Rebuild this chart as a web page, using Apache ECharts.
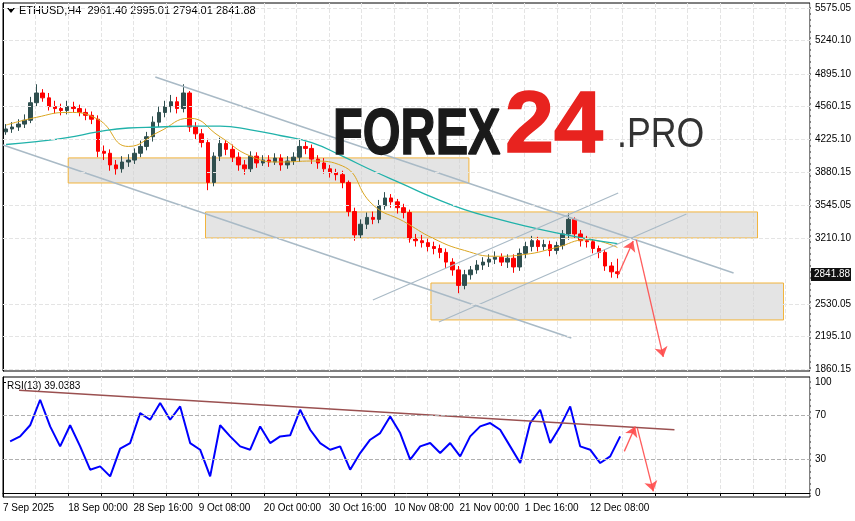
<!DOCTYPE html>
<html>
<head>
<meta charset="utf-8">
<script src="https://cdn.jsdelivr.net/npm/echarts@6/dist/echarts.min.js"></script>
<style>
  html, body { margin: 0; padding: 0; background: #fff; }
  #chart { width: 855px; height: 521px; }
</style>
</head>
<body>
<div id="chart"></div>
<script>
// daily candles (one per day, starting 7 Sep 2025)
const closes = [4330,4350,4380,4420,4600, 4700,4650,4560,4540,4520, 4560,4540,4500,4470,4430,
  4100,4080,3960,3920,3990, 4010,4080,4150,4250,4400, 4500,4560,4610,4540,4700,
  4350,4280,4190,3780,4050, 4180,4120,4040,3960,3920, 4050,3980,4010,3990,4030,
  3960,4000,4040,4150,4130, 4020,3980,3920,3880,3860, 3780,3480,3240,3350,3420,
  3400,3540,3620,3580,3520, 3470,3200,3180,3160,3120, 3100,3060,2960,2880,2720,
  2830,2880,2930,2960,2990, 3010,2960,3000,2910,3050, 3120,3180,3120,3140,3080,
  3130,3250,3400,3250,3180, 3170,3100,3060,2920,2860, 2841.88];
const highs = [4380,4400,4430,4480,4660, 4790,4740,4700,4620,4590, 4620,4610,4580,4540,4510,
  4470,4160,4120,4010,4050, 4070,4130,4210,4300,4460, 4560,4620,4680,4660,4790,
  4720,4400,4330,4230,4090, 4240,4220,4170,4090,4010, 4100,4090,4060,4060,4080,
  4070,4050,4090,4230,4200, 4170,4060,4030,3960,3920, 3900,3800,3520,3400,3470,
  3480,3600,3680,3660,3610, 3560,3500,3250,3240,3200, 3170,3140,3100,3000,2920,
  2880,2920,2980,3010,3040, 3070,3050,3040,3040,3100, 3170,3230,3220,3190,3180,
  3170,3290,3460,3420,3290, 3230,3210,3130,3090,2960, 2995.01];
const lows = [4270,4290,4310,4340,4390, 4560,4610,4520,4490,4470, 4480,4500,4460,4420,4380,
  4040,4010,3900,3860,3880, 3940,3970,4040,4110,4200, 4350,4450,4500,4490,4500,
  4300,4220,4140,3700,3740, 4000,4060,3990,3900,3860, 3880,3930,3950,3940,3960,
  3900,3920,3960,3990,4070, 3970,3920,3870,3830,3800, 3720,3430,3180,3200,3300,
  3350,3360,3500,3520,3460, 3410,3160,3120,3110,3070, 3040,3000,2900,2820,2640,
  2680,2780,2840,2880,2910, 2940,2920,2900,2850,2870, 3000,3070,3070,3080,3020,
  3040,3090,3190,3200,3120, 3110,3050,3000,2870,2800, 2794.01];
const firstOpen = 4300;

// moving averages, sampled every 5 days (hour offsets)
const maHours = [12,132,252,372,492,612,732,852,972,1092,1212,1332,1452,1572,1692,1812,1932,2052,2172,2292,2412];
const maFast = [4370,4450,4500,4430,4150,4300,4440,4250,4050,3990,4000,3950,3550,3380,3200,3080,3020,3040,3110,3190,3110];
const maSlow = [4170,4200,4240,4300,4340,4350,4360,4360,4320,4260,4190,4050,3900,3760,3620,3500,3410,3330,3260,3200,3150];

// RSI(13), sampled along the chart
const rsiStart = 28, rsiStep = 39.26;
const rsiValues = [46.5,51,61,84,60,42,61,42,21,24, 15,40,45,72,66,81,66,78,45,39,
  15,61,51,42,39,60,45,51,52,75, 57,45,39,42,21,36,48,54,69,54,
  30,42,45,36,45,33,51,60,63,57, 42,27,63,75,45,60,78,42,39,27, 33,51];

const priceTicks = [5575.05,5240.10,4895.10,4560.15,4225.10,3880.15,3545.05,3210.10,2530.05,2195.10,1860.15];
const rsiTicks = [100,70,30,0];
const dateLabels = ['7 Sep 2025','18 Sep 00:00','28 Sep 16:00','9 Oct 08:00','20 Oct 00:00',
  '30 Oct 16:00','10 Nov 08:00','21 Nov 00:00','1 Dec 16:00','12 Dec 08:00'];

// drawn objects [hour, price]
const channelUpper = [[598,4865],[2868,2848]];
const channelLower = [[0,4165],[2231,2179]];
const riseA = [[1452,2570],[2415,3671]];
const riseB = [[1711,2344],[2683,3455]];
const zones = [[256,4032,1829,3774],[795,3476,2962,3208],[1680,2745,3064,2365]];
const arrowUp = [[2415,2828],[2474,3177]];
const arrowDown = [[2486,3188],[2592,1984]];
const rsiTrend = [[63,92.5],[2636,57]];
const rsiArrowUp = [[2439,37.5],[2482,60]];
const rsiArrowDown = [[2490,58.5],[2553,1.5]];

const HOURS = 3168;
const dayCats = [];
for (let i = 0; i < HOURS / 24; i++) dayCats.push(i);
const candles = closes.map((c, i) => {
  const o = i === 0 ? firstOpen : closes[i - 1];
  return [o, c, lows[i], highs[i]];
});
const rsiData = rsiValues.map((v, i) => [rsiStart + i * rsiStep, v]);

const chart = echarts.init(document.getElementById('chart'));
const font = 'Liberation Sans';

function seg(data, color, width, xi, yi) {
  return {
    type: 'line', data, xAxisIndex: xi, yAxisIndex: yi, showSymbol: false, silent: true, z: 4,
    lineStyle: { color, width }
  };
}
function arrowSeg(data, xi, yi) {
  return {
    type: 'lines', coordinateSystem: 'cartesian2d', xAxisIndex: xi, yAxisIndex: yi, silent: true, z: 6,
    symbol: ['none', 'arrow'], symbolSize: 10,
    lineStyle: { color: '#ff4a4a', width: 1.3, opacity: 0.9 },
    data: [{ coords: data }]
  };
}

chart.setOption({
  animation: false,
  textStyle: { fontFamily: font },
  grid: [
    { left: 3, right: 45, top: 3, height: 368, show: true, borderColor: '#000', borderWidth: 1 },
    { left: 3, right: 45, top: 377, height: 120, show: true, borderColor: '#000', borderWidth: 1 }
  ],
  xAxis: [
    { type: 'category', data: dayCats, gridIndex: 0, show: false },
    { type: 'value', gridIndex: 0, min: 0, max: HOURS, interval: 128,
      axisLabel: { show: false }, axisTick: { show: false }, axisLine: { show: false },
      splitLine: { show: true, lineStyle: { color: '#e4e4e4', type: 'dashed' } } },
    { type: 'value', gridIndex: 1, min: 0, max: HOURS, interval: 128,
      axisLine: { lineStyle: { color: '#000' } },
      axisTick: { show: true, length: 3, lineStyle: { color: '#000' } },
      splitLine: { show: true, lineStyle: { color: '#e4e4e4', type: 'dashed' } },
      axisLabel: { color: '#000', fontSize: 10, align: 'left', margin: 6, showMaxLabel: false,
        formatter: v => (v % 256 === 0 && dateLabels[v / 256]) ? dateLabels[v / 256] : '' } }
  ],
  yAxis: [
    { type: 'value', gridIndex: 0, position: 'right', min: 1839.6, max: 5626, scale: true,
      axisLine: { show: true, lineStyle: { color: '#000' } },
      axisTick: { show: true, length: 3, customValues: priceTicks },
      splitLine: { show: false },
      axisLabel: { color: '#000', fontSize: 10, margin: 5, customValues: priceTicks,
        formatter: v => v.toFixed(2) } },
    { type: 'value', gridIndex: 1, position: 'right', min: -3.6, max: 104.5,
      axisLine: { show: true, lineStyle: { color: '#000' } },
      axisTick: { show: true, length: 3, customValues: rsiTicks },
      splitLine: { show: false },
      axisLabel: { color: '#000', fontSize: 10, margin: 5, customValues: rsiTicks } }
  ],
  series: [
    { type: 'line', xAxisIndex: 1, yAxisIndex: 0, data: [], silent: true,
      markLine: { silent: true, symbol: 'none', label: { show: false },
        lineStyle: { color: '#e4e4e4', type: 'dashed', width: 1 },
        data: priceTicks.map(v => ({ yAxis: v })) } },
    { type: 'candlestick', xAxisIndex: 0, yAxisIndex: 0, data: candles, barWidth: 4, z: 3,
      itemStyle: { color: '#2f4f4f', color0: '#ff0000', borderColor: '#2f4f4f', borderColor0: '#ff0000', borderWidth: 1 } },
    { type: 'line', xAxisIndex: 1, yAxisIndex: 0, smooth: true, showSymbol: false, z: 4,
      data: maHours.map((h, i) => [h, maFast[i]]), lineStyle: { color: '#daa520', width: 1 } },
    { type: 'line', xAxisIndex: 1, yAxisIndex: 0, smooth: true, showSymbol: false, z: 4,
      data: maHours.map((h, i) => [h, maSlow[i]]), lineStyle: { color: '#20b2aa', width: 1.3 } },
    seg(channelUpper, '#a9bac6', 1.5, 1, 0),
    seg(channelLower, '#a9bac6', 1.5, 1, 0),
    seg(riseA, '#a9bac6', 1.2, 1, 0),
    seg(riseB, '#a9bac6', 1.2, 1, 0),
    { type: 'line', xAxisIndex: 1, yAxisIndex: 0, data: [], silent: true,
      markArea: { silent: true,
        itemStyle: { color: 'rgba(205,205,205,0.55)', borderColor: '#f2b43c', borderWidth: 1 },
        data: zones.map(z => [{ xAxis: z[0], yAxis: z[1] }, { xAxis: z[2], yAxis: z[3] }]) } },
    arrowSeg(arrowUp, 1, 0),
    arrowSeg(arrowDown, 1, 0),
    { type: 'line', xAxisIndex: 2, yAxisIndex: 1, data: rsiData, showSymbol: false, z: 3,
      lineStyle: { color: '#0000ff', width: 2 },
      markLine: { silent: true, symbol: 'none', label: { show: false },
        lineStyle: { color: '#b0b0b0', type: 'dashed', width: 1 },
        data: [{ yAxis: 70 }, { yAxis: 30 }] } },
    seg(rsiTrend, '#9a5050', 1.5, 2, 1),
    arrowSeg(rsiArrowUp, 2, 1),
    arrowSeg(rsiArrowDown, 2, 1)
  ],
  graphic: [
    { type: 'polygon', shape: { points: [[7, 8], [15, 8], [11, 13]] }, style: { fill: '#000' } },
    { type: 'text', left: 19, top: 5, style: { text: 'ETHUSD,H4  2961.40 2995.01 2794.01 2841.88', font: '11px Liberation Sans', fill: '#000' } },
    { type: 'text', left: 7, top: 381, style: { text: 'RSI(13) 39.0383', font: '10px Liberation Sans', fill: '#000' } },
    { type: 'text', x: 333, y: 104, scaleX: 0.76, z: 10, silent: true,
      style: { text: 'FOREX', font: 'bold 64px Liberation Sans', fill: '#1a1a1a', stroke: '#1a1a1a', lineWidth: 1.5 } },
    { type: 'text', x: 505, y: 84, z: 10, silent: true,
      style: { text: '24', font: 'bold 88px Liberation Sans', fill: '#e8231f', stroke: '#e8231f', lineWidth: 1.5 } },
    { type: 'text', x: 617, y: 114, scaleX: 0.85, z: 10, silent: true,
      style: { text: '.PRO', font: '42px Liberation Sans', fill: '#333' } },
    { type: 'rect', shape: { x: 811, y: 268, width: 40, height: 13 }, style: { fill: '#111' }, z: 10 },
    { type: 'text', x: 814, y: 269, z: 11, style: { text: '2841.88', font: '10px Liberation Sans', fill: '#fff' } }
  ]
});
</script>
</body>
</html>
